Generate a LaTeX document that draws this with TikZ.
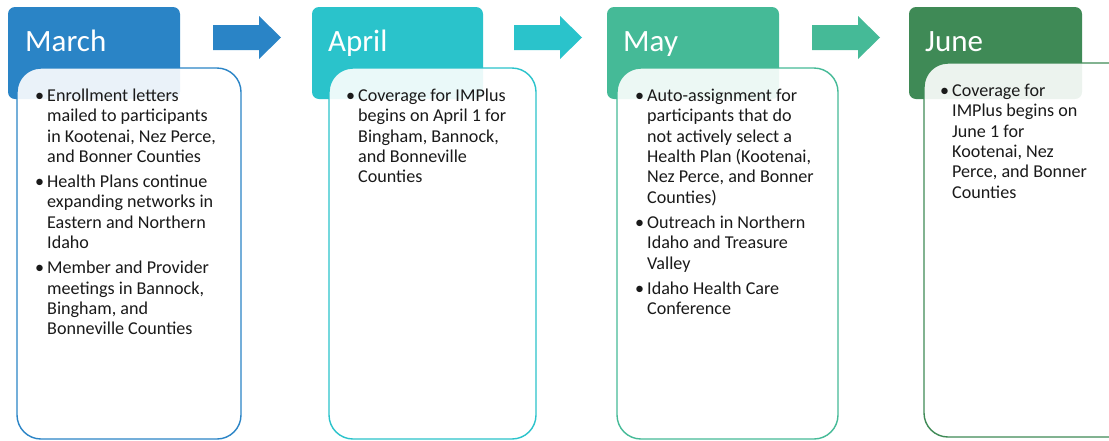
\documentclass[tikz,border=0pt]{standalone}
\usepackage{fontspec}
\setmainfont{Carlito}
\definecolor{cMar}{HTML}{2A84C6}
\definecolor{cApr}{HTML}{2AC3CB}
\definecolor{cMay}{HTML}{45BA97}
\definecolor{cJun}{HTML}{3F8A56}
\definecolor{txt}{HTML}{1A1A1A}
\tikzset{
  hdr/.style={fill=#1, rounded corners=7pt, draw=none},
  bodybox/.style={draw=#1, line width=1.4pt, fill=white, fill opacity=0.9, rounded corners=24pt},
  month/.style={anchor=base west, text=white, font=\fontsize{31}{36}\selectfont, inner sep=0pt},
  items/.style={anchor=north west, align=left, text=txt, font=\fontsize{18.1}{20.4}\selectfont, inner sep=0pt},
}
\newcommand{\itm}{\llap{\textbullet\hspace{3pt}}}
\newcommand{\topstrut}{\rule{0pt}{14pt}}
\begin{document}
\begin{tikzpicture}[x=1pt,y=-1pt]
\useasboundingbox (0,0) rectangle (1109,440);
\clip (0,0) rectangle (1109,440);
% headers
\path[hdr=cMar] (8,7) rectangle (180,99);
\path[hdr=cApr] (312,7) rectangle (483,99);
\path[hdr=cMay] (607,7) rectangle (779,99);
\path[hdr=cJun] (909,7) rectangle (1082,99);
% arrows
\coordinate (a1) at (213,37.5);
\coordinate (a2) at (514,37.5);
\coordinate (a3) at (812,37.5);
\foreach \c/\col in {a1/cMar,a2/cApr,a3/cMay}{
  \fill[\col] (\c) ++(0,-12.5) -- ++(46,0) -- ++(0,-9) -- ++(22,21.5) -- ++(-22,21.5) -- ++(0,-9) -- ++(-46,0) -- cycle;
}
% bodies
\path[bodybox=cMar] (17,68) rectangle (241,439);
\path[bodybox=cApr] (329,68) rectangle (536,439);
\path[bodybox=cMay] (617,68) rectangle (838,439);
\path[bodybox=cJun] (924,63) rectangle (1135,437);
% titles
\node[month] (tMar) at (25,51) {March};
\node[month] (tApr) at (328,51) {April};
\node[month] (tMay) at (623,51) {May};
\node[month] (tJun) at (925,51) {June};
% texts (first baseline = node top + 14)
\node[items] (iMar) at (47,87) {\topstrut\itm Enrollment letters\\mailed to participants\\in Kootenai, Nez Perce,\\and Bonner Counties\\[4.6pt]\itm Health Plans continue\\expanding networks in\\Eastern and Northern\\Idaho\\[4.6pt]\itm Member and Provider\\meetings in Bannock,\\Bingham, and\\Bonneville Counties};
\node[items] (iApr) at (358,87) {\topstrut\itm Coverage for IMPlus\\begins on April 1 for\\Bingham, Bannock,\\and Bonneville\\Counties};
\node[items] (iMay) at (647,87) {\topstrut\itm Auto-assignment for\\participants that do\\not actively select a\\Health Plan (Kootenai,\\Nez Perce, and Bonner\\Counties)\\[4.6pt]\itm Outreach in Northern\\Idaho and Treasure\\Valley\\[4.6pt]\itm Idaho Health Care\\Conference};
\node[items] (iJun) at (952,82) {\topstrut\itm Coverage for\\IMPlus begins on\\June 1 for\\Kootenai, Nez\\Perce, and Bonner\\Counties};
\end{tikzpicture}
\end{document}
